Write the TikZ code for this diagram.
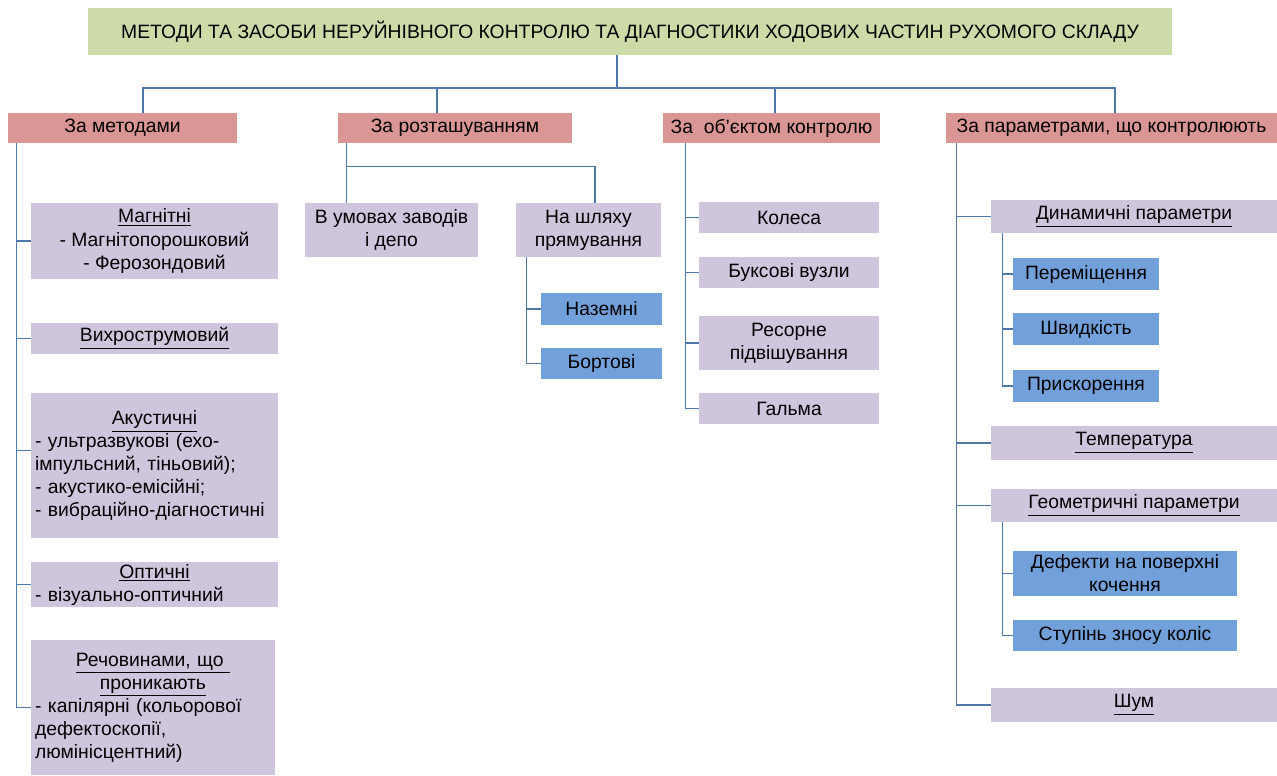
\documentclass[tikz,border=0pt]{standalone}
\usepackage{fontspec}
\setmainfont{Liberation Sans}
\usetikzlibrary{calc}
\definecolor{titlegreen}{RGB}{204,219,168}
\definecolor{groupred}{RGB}{217,150,148}
\definecolor{itemlilac}{RGB}{207,198,221}
\definecolor{subblue}{RGB}{114,160,218}
\definecolor{linkblue}{RGB}{79,119,170}
\newcommand{\hd}[1]{\makebox[\linewidth]{\underline{#1}}}

\begin{document}
\begin{tikzpicture}[x=0.02cm, y=-0.02cm, font=\fontsize{11}{13.1}\selectfont,
  box/.style={inner sep=0pt, align=center, minimum height=0.62cm},
  group/.style={box, fill=groupred, minimum height=0.6cm},
  item/.style={box, fill=itemlilac},
  sub/.style={box, fill=subblue},
  leftbox/.style={item, inner xsep=0.08cm, text width=4.78cm, align=left},
  link/.style={draw=linkblue, line width=0.7pt}]
  \useasboundingbox (0,0) rectangle (1277,775);
  \node[box, fill=titlegreen, minimum width=21.68cm, minimum height=0.94cm] (title) at (630,31.5)
    {МЕТОДИ ТА ЗАСОБИ НЕРУЙНІВНОГО КОНТРОЛЮ ТА ДІАГНОСТИКИ ХОДОВИХ ЧАСТИН РУХОМОГО СКЛАДУ};
  \node[group, minimum width=4.58cm] (meth) at (122.5,128) {За методами};
  \node[group, minimum width=4.68cm] (loc) at (455,128) {За розташуванням};
  \node[group, minimum width=4.34cm] (obj) at (771.5,128) {За\ \ об’єктом контролю};
  \node[group, minimum width=6.62cm] (par) at (1111.5,128) {За параметрами, що контролюють};
  % за методами
  \node[item, minimum width=4.94cm, minimum height=1.52cm] (m1) at (154.5,241)
    {\underline{Магнітні}\\- Магнітопорошковий\\- Ферозондовий};
  \node[item, minimum width=4.94cm] (m2) at (154.5,338.5) {\underline{Вихрострумовий}};
  \node[leftbox, minimum height=2.9cm] (m3) at (154.5,465.5)
    {\hd{Акустичні}\\- ультразвукові (ехо-\\імпульсний, тіньовий);\\- акустико-емісійні;\\- вибраційно-діагностичні};
  \node[leftbox, minimum height=0.9cm] (m4) at (154.5,584.5)
    {\hd{Оптичні}\\- візуально-оптичний};
  \node[leftbox, text width=4.72cm, minimum height=2.7cm] (m5) at (153,707.5)
    {\hd{Речовинами, що\ }\\\hd{проникають}\\- капілярні (кольорової\\дефектоскопії,\\люмінісцентний)};
  % за розташуванням
  \node[item, minimum width=3.46cm, minimum height=1.08cm] (l1) at (391.5,230) {В умовах заводів\\і депо};
  \node[item, minimum width=2.9cm, minimum height=1.08cm] (l2) at (588.5,230) {На шляху\\прямування};
  \node[sub, minimum width=2.42cm, minimum height=0.64cm] (l3) at (601.5,309) {Наземні};
  \node[sub, minimum width=2.42cm] (l4) at (601.5,363.5) {Бортові};
  % за об'єктом
  \node[item, minimum width=3.6cm] (o1) at (789,217.5) {Колеса};
  \node[item, minimum width=3.6cm] (o2) at (789,272.5) {Буксові вузли};
  \node[item, minimum width=3.6cm, minimum height=1.08cm] (o3) at (789,343) {Ресорне\\підвішування};
  \node[item, minimum width=3.6cm] (o4) at (789,408.5) {Гальма};
  % за параметрами
  \node[item, minimum width=5.72cm, minimum height=0.66cm] (p1) at (1134,216.5) {\underline{Динамичні параметри}};
  \node[sub, minimum width=2.92cm, minimum height=0.64cm] (p1a) at (1086,274) {Переміщення};
  \node[sub, minimum width=2.92cm, minimum height=0.64cm] (p1b) at (1086,329) {Швидкість};
  \node[sub, minimum width=2.92cm, minimum height=0.64cm] (p1c) at (1086,386) {Прискорення};
  \node[item, minimum width=5.72cm, minimum height=0.68cm] (p2) at (1134,443) {\underline{Температура}};
  \node[item, minimum width=5.72cm, minimum height=0.66cm] (p3) at (1134,505.5) {\underline{Геометричні параметри}};
  \node[sub, minimum width=4.48cm, minimum height=0.9cm] (p3a) at (1125,573.5) {Дефекти на поверхні\\кочення};
  \node[sub, minimum width=4.48cm] (p3b) at (1125,635.5) {Ступінь зносу коліс};
  \node[item, minimum width=5.72cm, minimum height=0.68cm] (p4) at (1134,705) {\underline{Шум}};
  % connectors
  \coordinate (hub) at (617,88);
  \draw[link] (title.south -| hub) -- (hub);
  \draw[link] (hub) -| ($(meth.north)+(20.5,0)$);
  \draw[link] (hub) -| ($(loc.north)+(-18,0)$);
  \draw[link] (hub) -| ($(obj.north)+(3.5,0)$);
  \draw[link] (hub) -| ($(par.north)+(3.5,0)$);
  \coordinate (mt) at ($(meth.south west)+(9,0)$);
  \draw[link] (mt) |- (m5.west);
  \foreach \n in {m1,m2,m4} \draw[link] (\n.west -| mt) -- (\n.west);
  \draw[link] ($(m3.west)+(0,-15)$) coordinate (m3b) -- (m3b -| mt);
  \coordinate (ls) at ($(loc.south west)+(9,23)$);
  \draw[link] (ls |- loc.south) -- (ls |- l1.north);
  \draw[link] (ls) -| ($(l2.north)+(6.5,0)$);
  \coordinate (lt) at ($(l2.south west)+(11,0)$);
  \draw[link] (lt) |- (l4.west);
  \draw[link] (l3.west -| lt) -- (l3.west);
  \coordinate (ot) at ($(obj.south west)+(23,0)$);
  \draw[link] (ot) |- (o4.west);
  \foreach \n in {o1,o2,o3} \draw[link] (\n.west -| ot) -- (\n.west);
  \coordinate (pt) at ($(par.south west)+(11,0)$);
  \draw[link] (pt) |- (p4.west);
  \foreach \n in {p1,p2,p3} \draw[link] (\n.west -| pt) -- (\n.west);
  \coordinate (pa) at ($(p1.south west)+(12,0)$);
  \draw[link] (pa) |- (p1c.west);
  \foreach \n in {p1a,p1b} \draw[link] (\n.west -| pa) -- (\n.west);
  \coordinate (pb) at ($(p3.south west)+(12,0)$);
  \draw[link] (pb) |- (p3b.west);
  \draw[link] (p3a.west -| pb) -- (p3a.west);
\end{tikzpicture}
\end{document}
